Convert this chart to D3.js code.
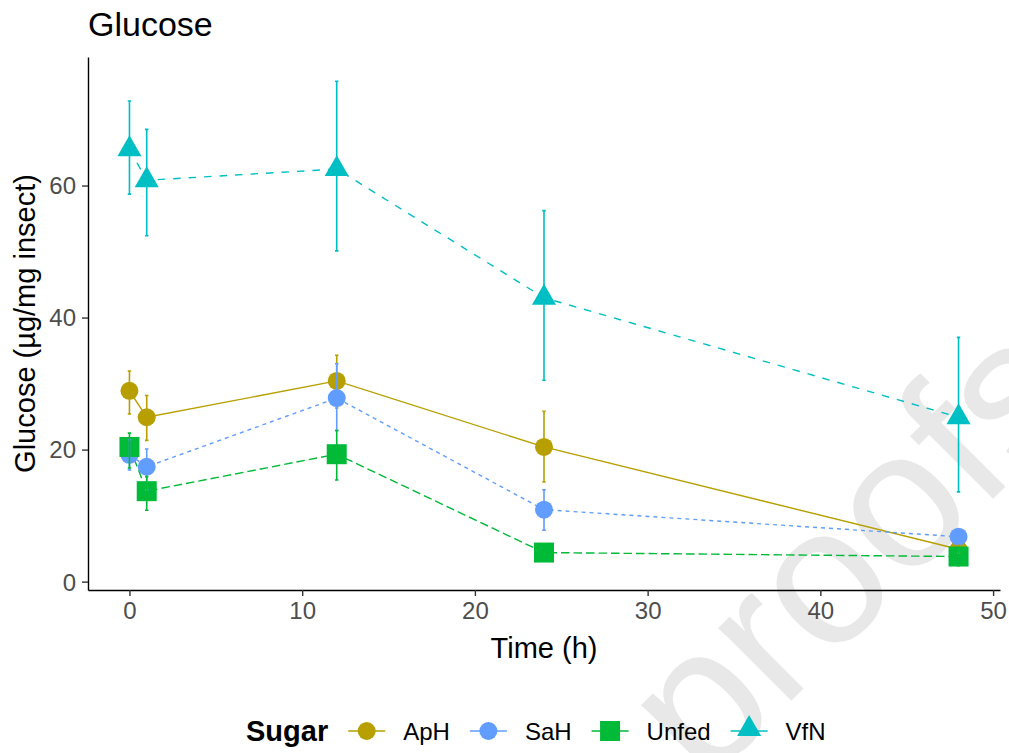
<!DOCTYPE html>
<html>
<head>
<meta charset="utf-8">
<script src="https://cdnjs.cloudflare.com/ajax/libs/d3/7.8.5/d3.min.js"></script>
<style>
  body { margin: 0; background: #fff; }
  text { font-family: "Liberation Sans", Arial, sans-serif; }
</style>
</head>
<body>
<svg width="1009" height="753"></svg>
<script>
// data (mean glucose and error bar limits, ug/mg insect)
var times = [0, 1, 12, 24, 48];
var sugars = ["ApH", "SaH", "Unfed", "VfN"];
var colors = ["#B79F00", "#619CFF", "#00BA38", "#00BFC4"];
var shapes = ["circle", "circle", "square", "triangle"];
var dashes = [null, "4,4", "8.5,4", "7.5,8"];

var apH   = [28.9, 24.9, 30.4, 20.4, 4.9];
var apHLo = [25.4, 21.4, 26.3, 15.1, 4.3];
var apHHi = [31.9, 28.2, 34.3, 25.8, 5.5];

var saH   = [19.2, 17.4, 27.8, 10.9, 6.8];
var saHLo = [16.9, 13.9, 22.9, 7.8, 6.0];
var saHHi = [21.5, 20.1, 33.0, 13.9, 7.6];

var unfed   = [20.4, 13.7, 19.3, 4.4, 3.8];
var unfedLo = [17.2, 10.8, 15.4, 3.9, 2.4];
var unfedHi = [22.5, 15.9, 22.9, 4.9, 5.2];

var vfN   = [65.5, 60.8, 62.5, 43.0, 24.9];
var vfNLo = [58.7, 52.4, 50.1, 30.5, 13.6];
var vfNHi = [72.8, 68.5, 75.8, 56.2, 37.0];

var xTicks = [0, 10, 20, 30, 40, 50];
var yTicks = [0, 20, 40, 60];

var means = [apH, saH, unfed, vfN];
var lows = [apHLo, saHLo, unfedLo, vfNLo];
var highs = [apHHi, saHHi, unfedHi, vfNHi];

var series = sugars.map(function(s, i) {
  return {
    name: s, color: colors[i], shape: shapes[i], dash: dashes[i],
    values: times.map(function(t, j) {
      return { t: t, y: means[i][j], lo: lows[i][j], hi: highs[i][j] };
    })
  };
});

var svg = d3.select("svg");
var panel = { left: 88, right: 1000, top: 57, bottom: 590 };

// ggplot style 5% expansion
var yMin = d3.min(lows, function(d) { return d3.min(d); });
var yMax = d3.max(highs, function(d) { return d3.max(d); });
var yPad = (yMax - yMin) * 0.05;
var xPad = (d3.max(times) - d3.min(times)) * 0.05;

var x = d3.scaleLinear()
    .domain([d3.min(times) - xPad, d3.max(times) + xPad])
    .range([panel.left, panel.right]);
var y = d3.scaleLinear()
    .domain([yMin - yPad, yMax + yPad])
    .range([panel.bottom, panel.top]);

// watermark
svg.append("text")
    .attr("transform", "translate(705,787) rotate(-45)")
    .style("font-size", "195px")
    .style("fill", "#e8e8e8")
    .text("proofs");

// axes
var xAxis = svg.append("g")
    .attr("transform", "translate(0," + panel.bottom + ")")
    .call(d3.axisBottom(x).tickValues(xTicks).tickSize(6).tickPadding(5).tickSizeOuter(0));
var yAxis = svg.append("g")
    .attr("transform", "translate(" + panel.left + ",0)")
    .call(d3.axisLeft(y).tickValues(yTicks).tickSize(6).tickPadding(6).tickSizeOuter(0));

[xAxis, yAxis].forEach(function(a) {
  a.select(".domain").attr("stroke", "#000").attr("stroke-width", 1.4);
  a.selectAll(".tick line").attr("stroke", "#333").attr("stroke-width", 1.4);
  a.selectAll(".tick text")
      .style("font-size", "24px")
      .style("font-family", "'Liberation Sans', Arial, sans-serif")
      .attr("fill", "#4D4D4D");
});
yAxis.selectAll(".tick text").attr("dy", "0.35em");
xAxis.selectAll(".tick text").attr("dy", "0.76em");

// lines
var line = d3.line()
    .x(function(d) { return x(d.t); })
    .y(function(d) { return y(d.y); });

svg.append("g").selectAll("path")
  .data(series)
  .enter().append("path")
    .attr("d", function(d) { return line(d.values); })
    .attr("fill", "none")
    .attr("stroke", function(d) { return d.color; })
    .attr("stroke-width", 1.4)
    .attr("stroke-dasharray", function(d) { return d.dash; });

// points
var symbolFor = function(shape) {
  if (shape == "circle") return d3.symbol(d3.symbolCircle, Math.PI * 9 * 9);
  if (shape == "square") return d3.symbol(d3.symbolSquare, 20 * 20);
  return null;
};
function triPath(r) {
  var xc = r * Math.sqrt(3) / 2;
  return "M0," + (-r) + "L" + xc + "," + (r / 2) + "L" + (-xc) + "," + (r / 2) + "Z";
}

var pts = svg.append("g").selectAll("g")
  .data(series)
  .enter().append("g");

pts.selectAll("path")
  .data(function(s) { return s.values.map(function(v) { return { s: s, v: v }; }); })
  .enter().append("path")
    .attr("transform", function(d) { return "translate(" + x(d.v.t) + "," + y(d.v.y) + ")"; })
    .attr("d", function(d) {
      var sym = symbolFor(d.s.shape);
      return sym ? sym() : triPath(13.9);
    })
    .attr("fill", function(d) { return d.s.color; });

// error bars
var capHalf = 0.1;
var eb = svg.append("g").selectAll("g")
  .data(series)
  .enter().append("g")
    .attr("stroke", function(d) { return d.color; })
    .attr("stroke-width", 1.6)
    .attr("fill", "none");

eb.selectAll("path")
  .data(function(s) { return s.values; })
  .enter().append("path")
    .attr("d", function(d) {
      var x0 = x(d.t - capHalf), x1 = x(d.t + capHalf), xm = x(d.t);
      return "M" + x0 + "," + y(d.hi) + "H" + x1 +
             "M" + xm + "," + y(d.hi) + "V" + y(d.lo) +
             "M" + x0 + "," + y(d.lo) + "H" + x1;
    });

// titles
svg.append("text")
    .attr("x", panel.left)
    .attr("y", 36)
    .style("font-size", "34px")
    .attr("fill", "#000")
    .text("Glucose");

svg.append("text")
    .attr("transform", "translate(35," + (panel.top + panel.bottom) / 2 + ") rotate(-90)")
    .attr("text-anchor", "middle")
    .style("font-size", "29px")
    .attr("fill", "#000")
    .text("Glucose (\u00b5g/mg insect)");

svg.append("text")
    .attr("x", (panel.left + panel.right) / 2)
    .attr("y", 658)
    .attr("text-anchor", "middle")
    .style("font-size", "29px")
    .attr("fill", "#000")
    .text("Time (h)");

// legend
var legY = 731;
var legend = svg.append("g");
var lt = legend.append("text")
    .attr("x", 246)
    .attr("y", legY + 10)
    .style("font-size", "29px")
    .style("font-weight", "bold")
    .attr("fill", "#000")
    .text("Sugar");
var cursor = 246 + lt.node().getComputedTextLength() + 20;

series.forEach(function(s) {
  var kx = cursor + 18.5;
  legend.append("line")
      .attr("x1", cursor).attr("x2", cursor + 37)
      .attr("y1", legY).attr("y2", legY)
      .attr("stroke", s.color)
      .attr("stroke-width", 1.6);
  var sym = symbolFor(s.shape);
  legend.append("path")
      .attr("transform", "translate(" + kx + "," + (s.shape == "triangle" ? legY - 2 : legY) + ")")
      .attr("d", sym ? sym() : triPath(13.9))
      .attr("fill", s.color);
  var t = legend.append("text")
      .attr("x", cursor + 37 + 18)
      .attr("y", legY + 9)
      .style("font-size", "24px")
      .attr("fill", "#000")
      .text(s.name);
  cursor = cursor + 37 + 18 + t.node().getComputedTextLength() + 20;
});
</script>
</body>
</html>
